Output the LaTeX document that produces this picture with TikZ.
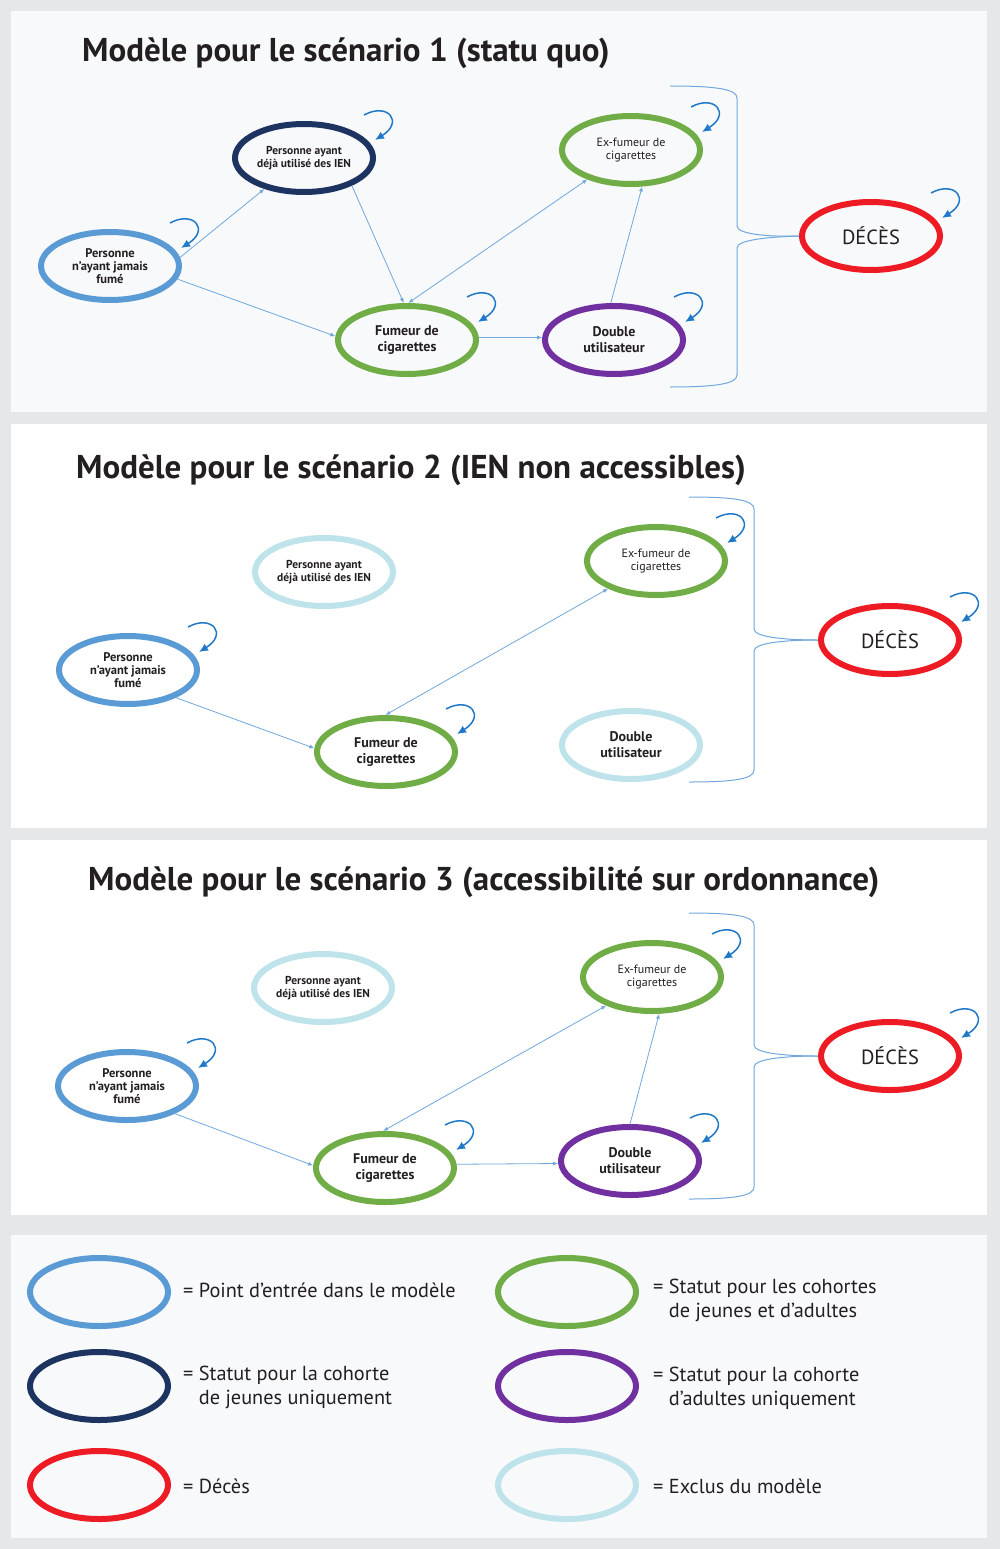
\documentclass[tikz,border=0pt]{standalone}
\usepackage{fontspec}
\setmainfont{PT Sans}
\usetikzlibrary{shapes.geometric,arrows.meta,calc}
\definecolor{outerbg}{HTML}{E6E7E8}
\definecolor{panelbg}{HTML}{F8F9FB}
\definecolor{cjam}{HTML}{5B9BD5}
\definecolor{cien}{HTML}{1D3461}
\definecolor{cfum}{HTML}{70AD47}
\definecolor{cdbl}{HTML}{7030A0}
\definecolor{cdec}{HTML}{ED1C24}
\definecolor{cexc}{HTML}{BEE3EA}
\definecolor{connc}{HTML}{6FA8DC}
\definecolor{loopc}{HTML}{1F78C8}
\definecolor{txt}{HTML}{231F20}
\begin{document}
\begin{tikzpicture}[x=1pt,y=-1pt,
  st/.style={ellipse, draw, line width=6pt, minimum width=138pt, minimum height=68pt,
    inner sep=0pt, align=center, text=txt},
  smallreg/.style={font=\fontsize{12}{13.5}\selectfont},
  smallbold/.style={font=\bfseries\fontsize{11.5}{13.5}\selectfont},
  jamfont/.style={font=\bfseries\fontsize{12.5}{12.8}\selectfont},
  midbold/.style={font=\bfseries\fontsize{14}{16}\selectfont},
  decfont/.style={font=\fontsize{20.5}{24}\selectfont},
  title/.style={font=\bfseries\fontsize{33}{38}\selectfont, inner sep=0pt, text=txt},
  legtext/.style={font=\fontsize{20.3}{24}\selectfont, inner sep=0pt, text=txt, align=left},
  conn/.style={draw=connc, line width=0.8pt, -{Latex[length=5pt,width=4pt]}},
  bconn/.style={draw=connc, line width=0.8pt, {Latex[length=5pt,width=4pt]}-{Latex[length=5pt,width=4pt]}},
  selfloop/.style={draw=loopc, line width=1.5pt, -{Latex[length=9pt,width=8pt]}},
  brace/.style={draw=connc, line width=1pt}
]
\fill[outerbg] (0,0) rectangle (1000,1549);
\useasboundingbox (0,0) rectangle (1000,1549);
\fill[panelbg] (11,11) rectangle (987,412);
\fill[white] (11,424) rectangle (987,828);
\fill[white] (11,840) rectangle (987,1215);
\fill[panelbg] (11,1235) rectangle (987,1538);

% ---------- Panel 1 ----------
\node[title, anchor=base west] (t1) at (82,62) {Modèle pour le scénario 1 (statu quo)};
\node[st, draw=cjam, jamfont] (jam1) at (110,266) {Personne\\n’ayant jamais\\fumé};
\node[st, draw=cien, smallbold] (ien1) at (304,158) {Personne ayant\\déjà utilisé des IEN};
\node[st, draw=cfum, midbold] (fum1) at (407,340) {Fumeur de\\cigarettes};
\node[st, draw=cfum, smallreg] (ex1) at (631,150) {Ex-fumeur de\\cigarettes};
\node[st, draw=cdbl, midbold] (dbl1) at (614,340) {Double\\utilisateur};
\node[st, draw=cdec, decfont] (dec1) at (871,236) {DÉCÈS};

\draw[conn] (jam1.7) -- (ien1.218);
\draw[conn] (jam1.-11) -- (fum1.177);
\draw[conn] (ien1.-30) -- (fum1.95);
\draw[bconn] (fum1.88) -- (ex1.214);
\draw[conn] (fum1.2) -- (dbl1.178);
\draw[conn] (dbl1.95) -- (ex1.-73);

% ---------- Panel 2 ----------
\node[title, anchor=base west] (t2) at (76,478) {Modèle pour le scénario 2 (IEN non accessibles)};
\node[st, draw=cjam, jamfont] (jam2) at (128,670) {Personne\\n’ayant jamais\\fumé};
\node[st, draw=cexc, smallbold] (ien2) at (324,572) {Personne ayant\\déjà utilisé des IEN};
\node[st, draw=cfum, midbold] (fum2) at (386,752) {Fumeur de\\cigarettes};
\node[st, draw=cfum, smallreg] (ex2) at (656,561) {Ex-fumeur de\\cigarettes};
\node[st, draw=cexc, midbold] (dbl2) at (631,745) {Double\\utilisateur};
\node[st, draw=cdec, decfont] (dec2) at (890,640) {DÉCÈS};

\draw[conn] (jam2.-30) -- (fum2.177);
\draw[bconn] (fum2.91) -- (ex2.210);

% ---------- Panel 3 ----------
\node[title, anchor=base west] (t3) at (88,890) {Modèle pour le scénario 3 (accessibilité sur ordonnance)};
\node[st, draw=cjam, jamfont] (jam3) at (127,1086) {Personne\\n’ayant jamais\\fumé};
\node[st, draw=cexc, smallbold] (ien3) at (323,988) {Personne ayant\\déjà utilisé des IEN};
\node[st, draw=cfum, midbold] (fum3) at (385,1168) {Fumeur de\\cigarettes};
\node[st, draw=cfum, smallreg] (ex3) at (652,977) {Ex-fumeur de\\cigarettes};
\node[st, draw=cdbl, midbold] (dbl3) at (630,1161) {Double\\utilisateur};
\node[st, draw=cdec, decfont] (dec3) at (890,1056) {DÉCÈS};

\draw[conn] (jam3.-30) -- (fum3.178);
\draw[bconn] (fum3.93) -- (ex3.212);
\draw[conn] (fum3.3) -- (dbl3.182);
\draw[conn] (dbl3.90) -- (ex3.-79);

% ---------- self loops ----------
\foreach \n in {jam1,ien1,fum1,ex1,dbl1,dec1,jam2,fum2,ex2,dec2,jam3,fum3,ex3,dbl3,dec3}{
  \draw[selfloop] ($(\n.center)+(60,-43)$) .. controls ($(\n.center)+(84,-56)$) and ($(\n.center)+(100,-36)$) .. ($(\n.center)+(71,-18)$);
}

% ---------- braces ----------
\foreach \tx/\bx/\ty/\ym/\by/\d in {670/737/86/237/387/dec1, 689/754/497/640/782/dec2, 689/754/913/1056/1199/dec3}{
  \coordinate (bt) at (\tx,\ty);
  \coordinate (bb) at (\tx,\by);
  \draw[brace] (bt) .. controls (\tx+45,\ty) and (\bx,\ty+3) .. (\bx,\ty+12)
     -- (\bx,\ym-11) .. controls (\bx,\ym-3) and (\bx+30,\ym) .. (\d.west);
  \draw[brace] (\d.west) .. controls (\bx+30,\ym) and (\bx,\ym+3) .. (\bx,\ym+11)
     -- (\bx,\by-12) .. controls (\bx,\by-3) and (\tx+45,\by) .. (bb);
}

% ---------- legend ----------
\node[st, draw=cjam] (lg1) at (99,1292) {};
\node[st, draw=cien] (lg2) at (99,1386) {};
\node[st, draw=cdec] (lg3) at (99,1485) {};
\node[st, draw=cfum] (lg4) at (567,1292) {};
\node[st, draw=cdbl] (lg5) at (567,1386) {};
\node[st, draw=cexc] (lg6) at (567,1485) {};

\node[legtext, anchor=base west] (lt1) at (183,1297) {= Point d’entrée dans le modèle};
\node[legtext, anchor=base west] (lt2) at (183,1380) {= \begin{tabular}[t]{@{}l@{}}Statut pour la cohorte\\de jeunes uniquement\end{tabular}};
\node[legtext, anchor=base west] (lt3) at (183,1493) {= Décès};
\node[legtext, anchor=base west] (lt4) at (653,1293) {= \begin{tabular}[t]{@{}l@{}}Statut pour les cohortes\\de jeunes et d’adultes\end{tabular}};
\node[legtext, anchor=base west] (lt5) at (653,1381) {= \begin{tabular}[t]{@{}l@{}}Statut pour la cohorte\\d’adultes uniquement\end{tabular}};
\node[legtext, anchor=base west] (lt6) at (653,1493) {= Exclus du modèle};
\end{tikzpicture}
\end{document}
